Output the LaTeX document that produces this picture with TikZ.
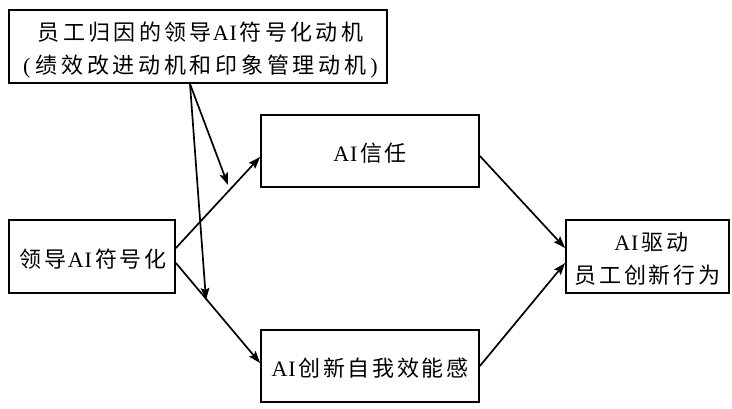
\documentclass[tikz,border=0pt]{standalone}
\usepackage{fontspec}
\setmainfont{Liberation Serif}
\newfontfamily\cjka[LetterSpace=9]{Noto Sans CJK SC}
\newfontfamily\cjkb[LetterSpace=12]{Noto Sans CJK SC}
\newfontfamily\cjkc[LetterSpace=15]{Noto Sans CJK SC}
\newfontfamily\cjkd[LetterSpace=17]{Noto Sans CJK SC}
\newfontfamily\lat[LetterSpace=4]{Liberation Serif}
\usetikzlibrary{arrows.meta,calc}
\newcommand{\myAI}{{\lat AI}\hspace{3pt}}
\newcommand{\lowr}[1]{\raisebox{-4pt}[\height][\depth]{\begin{tabular}{@{}c@{}}#1\end{tabular}}}
\tikzset{
  box/.style={draw, line width=1.8pt, inner sep=0pt, align=center,
    font=\fontsize{22}{33}\selectfont},
  conn/.style={line width=1.7pt, -{Stealth[length=12pt,width=8.5pt,inset=2pt]}},
}
\begin{document}
\begin{tikzpicture}[x=1pt,y=-1pt]
\useasboundingbox (0,0) rectangle (732,408);
\node[box, minimum width=378pt, minimum height=73pt] (mot) at (198,46.5)
  {\lowr{\hspace{5pt}{\cjkc 员工归因的领导}\hspace{1pt}\myAI{\cjkc 符号化动机}\\
   \hspace{5pt}{\lat (}\hspace{5pt}{\cjkd 绩效改进动机和印象管理动机}\hspace{4pt}{\lat )}}};
\node[box, minimum width=218pt, minimum height=72pt] (trust) at (370,151)
  {\lowr{\myAI{\cjka 信任}}};
\node[box, minimum width=166pt, minimum height=73pt] (lead) at (92,256.5)
  {\lowr{\hspace{2pt}{\cjkc 领导}\hspace{1pt}\myAI{\cjkb 符号化}}};
\node[box, minimum width=218pt, minimum height=72pt] (eff) at (370,366)
  {\lowr{\myAI{\cjkb 创新自我效能感}}};
\node[box, minimum width=163pt, minimum height=73pt] (out) at (647.5,256.5)
  {\lowr{\hspace{8pt}\myAI{\cjkc 驱动}\\{\cjkb 员工创新行为}}};
\coordinate (m1) at (228,185);
\coordinate (m2) at (206,300);
\draw[conn] ([yshift=8.5pt]lead.east) -- ([yshift=-6pt]trust.west);
\draw[conn] ([yshift=-6.5pt]lead.east) -- ([yshift=3pt]eff.west);
\draw[conn] ([yshift=-5pt]trust.east) -- ([yshift=8.5pt]out.west);
\draw[conn] (eff.east) -- ([yshift=-6.5pt]out.west);
\draw[conn] ([xshift=-8pt]mot.south) -- (m1);
\draw[conn] ([xshift=-8pt]mot.south) -- (m2);
\end{tikzpicture}
\end{document}
